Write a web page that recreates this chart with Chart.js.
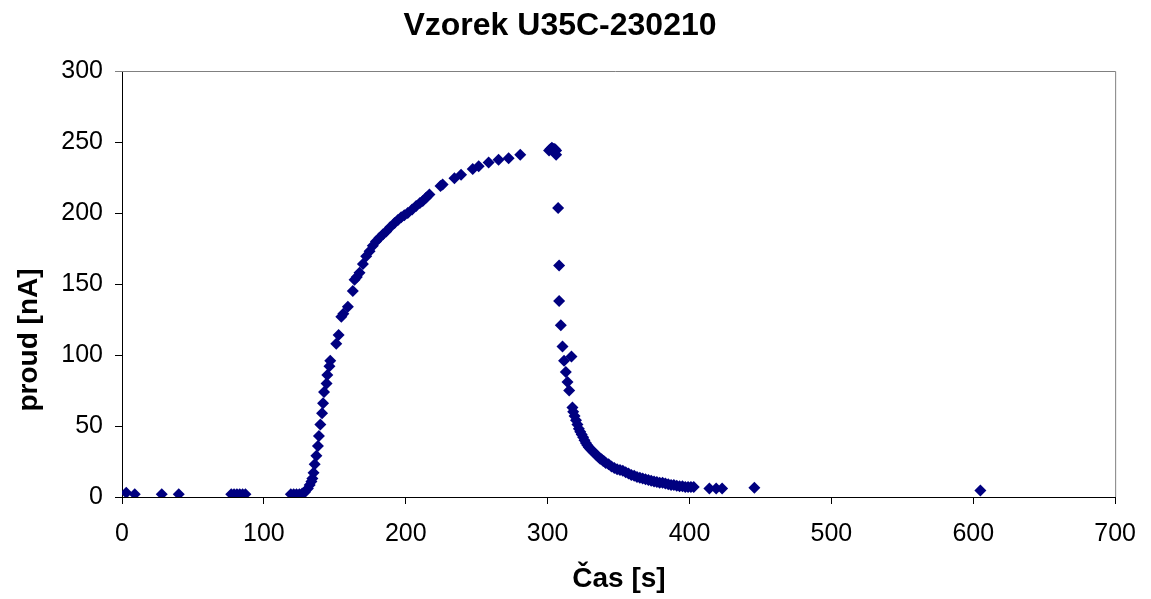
<!DOCTYPE html>
<html lang="cs">
<head>
    <meta charset="UTF-8">
    <title>Vzorek U35C-230210</title>
    <script src="https://cdn.jsdelivr.net/npm/chart.js"></script>
    <style>
        body { margin: 0; background: #fff; }
        canvas { display: block; }
    </style>
</head>
<body>
    <canvas id="chart" width="1151" height="599"></canvas>

    <script>
        // time [s] and current [nA]
        const baseTime = [3, 9, 28, 40, 77, 79, 81, 83, 85, 87, 119, 121, 123, 125, 127];
        const baseCurrent = [3, 2, 2, 2, 2, 2, 2, 2, 2, 2, 2, 2, 2, 2, 2.5];

        const riseTime = [129, 131, 132.3, 133.5, 134.2, 135, 135.8, 137, 138.1, 138.8, 139.8, 141, 141.7, 142.4, 144.2, 144.7, 146.2, 146.8,
            151, 152.7, 154.6, 156, 159.2, 162.7, 163.9, 165.5, 167.4, 169.8, 172.1, 174.5, 176.8, 179, 181.5, 184, 186.2, 189, 192.1,
            194.5, 196.8, 199, 201.4, 204.5, 207.3, 210, 212, 214.5, 216.7, 224.5, 226, 234.3, 239, 247.2, 251.4, 258.4, 265.4, 272.5, 280.7];
        const riseCurrent = [3.5, 6, 8.5, 11, 13, 17, 23, 29, 36, 43, 51, 59, 66, 74, 80, 86, 92, 96,
            108, 114, 127, 129, 134, 145, 153, 155, 158, 164, 169.5, 173, 177, 180, 182.5, 185, 187, 190, 193,
            195, 197, 198.5, 200, 202.5, 205, 207, 208.5, 211, 213, 219, 220, 224.5, 227, 231, 233, 235.5, 237.5, 238.5, 241];

        const peakTime = [301, 302, 303, 304, 305, 306, 306];
        const peakCurrent = [244, 245, 246, 245, 245, 244, 241];

        const decayTime = [307.4, 308.1, 308.1, 309.3, 310.5, 311.6, 312.8, 314, 315.2, 316.8,
            317.5, 318, 319, 320, 321, 322, 323, 324, 325, 326, 327, 328, 329, 330, 331, 332, 333, 334, 335, 336, 337, 338, 339, 340,
            341, 343, 345, 347, 349, 351, 353, 355, 357, 359, 361, 363, 365, 367, 369, 371, 373, 375, 377, 379, 381, 383, 385, 387,
            389, 391, 393, 395, 397, 399, 401, 403, 414, 418.8, 423, 445.7, 605];
        const decayCurrent = [203.5, 163, 138, 121, 106, 96, 88, 81, 75, 99,
            63, 60, 57, 54, 51, 48, 46, 44, 42, 40, 38, 36.5, 35, 34, 33, 32, 31, 30, 29, 28, 27, 26.5, 25.5, 25,
            24, 23, 21.5, 20.5, 19.5, 19, 18.5, 17.5, 16.5, 15.5, 15, 14, 13.5, 13, 12.5, 12, 11.5, 11, 10.5, 10, 10, 9.5, 9, 8.5,
            8.5, 8, 7.5, 7.5, 7, 7, 7, 7, 6, 6, 6, 6.5, 4.5];

        const xTicks = [0, 100, 200, 300, 400, 500, 600, 700];
        const yTicks = [0, 50, 100, 150, 200, 250, 300];

        const times = [...baseTime, ...riseTime, ...peakTime, ...decayTime];
        const currents = [...baseCurrent, ...riseCurrent, ...peakCurrent, ...decayCurrent];
        const points = times.map((t, i) => ({ x: t, y: currents[i] }));

        const FONT = '"Liberation Sans", Arial, sans-serif';

        // frame on top/right + the titles, drawn like the Excel chart
        const decor = {
            id: 'decor',
            beforeDatasetsDraw(chart) {
                const { ctx, chartArea: a } = chart;
                ctx.save();
                ctx.strokeStyle = '#808080';
                ctx.lineWidth = 1;
                ctx.beginPath();
                ctx.moveTo(a.left - 7, a.top + 0.5);
                ctx.lineTo(a.right + 0.5, a.top + 0.5);
                ctx.lineTo(a.right + 0.5, a.bottom);
                ctx.stroke();
                ctx.restore();
            },
            afterDraw(chart) {
                const ctx = chart.ctx;
                ctx.save();
                ctx.fillStyle = '#000';
                ctx.textAlign = 'center';
                ctx.textBaseline = 'middle';
                ctx.font = 'bold 32px ' + FONT;
                ctx.fillText('Vzorek U35C-230210', 560, 26);
                ctx.font = 'bold 28px ' + FONT;
                ctx.fillText('Čas [s]', 619, 579);
                ctx.translate(29, 340);
                ctx.rotate(-Math.PI / 2);
                ctx.fillText('proud [nA]', 0, 0);
                ctx.restore();
            }
        };

        new Chart(document.getElementById('chart'), {
            type: 'scatter',
            data: {
                datasets: [{
                    data: points,
                    pointStyle: 'rectRot',
                    pointRadius: 6,
                    backgroundColor: '#000080',
                    borderColor: '#000080',
                    borderWidth: 0
                }]
            },
            options: {
                responsive: false,
                animation: false,
                layout: { padding: { top: 71, right: 35, left: 0, bottom: 0 } },
                plugins: {
                    legend: { display: false },
                    title: { display: false },
                    tooltip: { enabled: false }
                },
                scales: {
                    x: {
                        type: 'linear',
                        min: 0,
                        max: 700,
                        afterFit: s => { s.height = 102; },
                        afterBuildTicks: s => { s.ticks = xTicks.map(v => ({ value: v })); },
                        ticks: { color: '#000', font: { family: FONT, size: 25 }, padding: 15, maxRotation: 0 },
                        grid: { drawOnChartArea: false, tickLength: 7, color: '#000' },
                        border: { color: '#000', width: 1 }
                    },
                    y: {
                        min: 0,
                        max: 300,
                        afterFit: s => { s.width = 122; },
                        afterBuildTicks: s => { s.ticks = yTicks.map(v => ({ value: v })); },
                        ticks: { color: '#000', font: { family: FONT, size: 25 }, padding: 12 },
                        grid: { drawOnChartArea: false, tickLength: 7, color: '#000' },
                        border: { color: '#000', width: 1 }
                    }
                }
            },
            plugins: [decor]
        });
    </script>
</body>
</html>
